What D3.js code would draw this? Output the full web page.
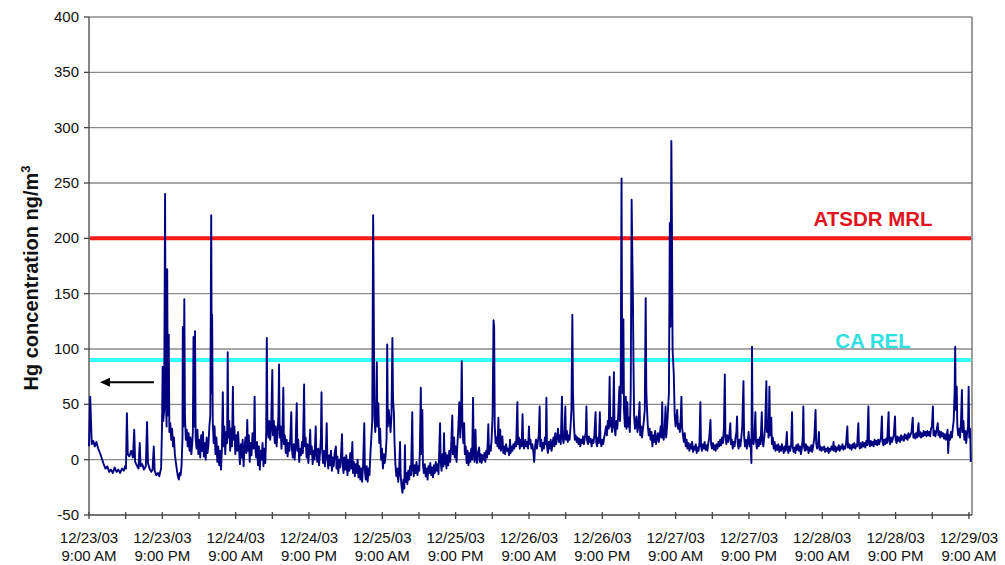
<!DOCTYPE html>
<html lang="en">
<head>
<meta charset="UTF-8" />
<title>Hg concentration</title>
<script src="https://cdnjs.cloudflare.com/ajax/libs/d3/7.8.5/d3.min.js"></script>
<style>
  body { margin: 0; background: #fff; }
  svg text { font-family: Arial, "Liberation Sans", sans-serif; fill: #111; }
  .grid { stroke: #8a8a8a; stroke-width: 1.3; }
  .hg { fill: none; stroke: #000080; stroke-width: 1.9; stroke-linejoin: round; }
</style>
</head>
<body>
<script>
var width = 1005, height = 565;
var plotLeft = 89, plotRight = 972, plotTop = 17, plotBottom = 515;

// start of record, series hours are counted from here
var start = new Date(2003, 11, 23, 9, 0);
var endHours = 144.5;

var yTicks = [-50, 0, 50, 100, 150, 200, 250, 300, 350, 400];
var xLabelDates = ["12/23/03", "12/23/03", "12/24/03", "12/24/03", "12/25/03", "12/25/03", "12/26/03",
                   "12/26/03", "12/27/03", "12/27/03", "12/28/03", "12/28/03", "12/29/03"];
var xLabelTimes = ["9:00 AM", "9:00 PM", "9:00 AM", "9:00 PM", "9:00 AM", "9:00 PM", "9:00 AM",
                   "9:00 PM", "9:00 AM", "9:00 PM", "9:00 AM", "9:00 PM", "9:00 AM"];
var limitNames = ["ATSDR MRL", "CA REL"];
var limitValues = [200, 90];
var limitColors = ["#ff1a1a", "#33ffff"];
var limitTextColors = ["#e0141e", "#2fe0e0"];

// [hours since start, Hg ng/m3]
var hgSeries = [
[0,12],[0.2,57],[0.45,14],[0.7,17],[0.95,12],[1.2,16],[1.5,10],[1.8,6],[2.1,1],[2.4,-4],[2.7,-8],[3.0,-6],[3.3,-11],[3.6,-9],[3.9,-12],[4.2,-7],[4.5,-11],[4.8,-9],[5.1,-12],[5.4,-8],[5.7,-10],[5.9,-6],[6.05,-8],[6.2,42],[6.35,5],[6.6,3],[6.9,8],[7.2,2],[7.4,27],[7.55,-2],[7.8,-5],[8.1,-8],[8.3,15],[8.45,-6],[8.7,-4],[9.0,-9],[9.3,-6],[9.5,34],[9.65,-3],[9.9,-8],[10.2,-11],[10.4,-9],[10.6,12],[10.75,-10],[11.0,-14],[11.3,-12],[11.5,-15],[11.7,-10],
[11.8,-8],[11.95,30],[12.05,84],[12.15,35],[12.3,45],[12.45,240],[12.55,60],[12.7,30],[12.8,172],[12.9,40],[13.05,113],[13.15,25],[13.3,33],[13.45,18],[13.6,28],[13.75,12],[13.9,20],[14.05,5],[14.2,-2],[14.4,-10],[14.55,-15],[14.7,-18],[14.85,-12],[15.0,-14],[15.15,-5],[15.3,20],[15.35,120],[15.45,30],[15.6,145],[15.7,40],[15.85,18],[16.0,27],[16.15,12],[16.3,24],[16.45,8],[16.6,20],[16.75,5],[16.9,15],[17.0,25],[17.1,111],[17.2,30],[17.35,116],[17.45,20],[17.6,10],[17.75,27],[17.9,5],[18.05,18],[18.2,2],[18.35,22],[18.5,8],[18.65,25],[18.8,3],[18.95,15],[19.1,0],[19.25,20],[19.4,6],[19.55,14],[19.7,30],[19.85,40],[20.0,221],[20.1,60],[20.15,131],[20.25,35],[20.4,15],[20.55,30],[20.7,5],[20.85,20],[21.0,-2],[21.15,12],[21.3,-5],[21.45,8],[21.6,-9],[21.75,10],[21.9,61],[22.0,12],[22.15,30],[22.3,5],[22.45,25],[22.6,15],[22.7,97],[22.8,20],[22.95,35],[23.1,8],[23.25,28],[23.4,12],[23.55,66],[23.65,18],[23.8,30],[23.95,5],[24.1,22],[24.25,8],[24.4,25],
[24.55,10],[24.7,-4],[24.85,14],[25.0,2],[25.15,18],[25.3,-6],[25.45,10],[25.6,20],[25.75,6],[25.9,36],[26.0,8],[26.15,22],[26.3,-2],[26.45,15],[26.6,4],[26.75,24],[26.9,10],[27.0,18],[27.1,57],[27.2,12],[27.35,2],[27.5,16],[27.65,-5],[27.8,12],[27.95,-9],[28.1,8],[28.25,0],[28.4,15],[28.55,-6],[28.7,10],[28.85,-3],[29.0,25],[29.1,110],[29.2,30],[29.35,20],[29.5,35],[29.65,18],[29.8,28],[29.9,55],[30.0,81],[30.1,22],[30.25,35],[30.4,15],[30.55,30],[30.7,12],[30.85,25],[31.0,40],[31.1,86],[31.2,20],[31.35,30],[31.5,10],[31.65,24],[31.8,65],[31.9,14],[32.05,22],[32.2,6],[32.35,18],[32.5,3],[32.65,15],[32.8,8],[32.95,20],[33.1,43],[33.2,10],[33.35,2],[33.5,14],[33.65,0],[33.8,12],[34.0,51],[34.1,8],[34.25,18],[34.4,-2],[34.55,10],[34.7,4],[34.85,16],[35.0,6],[35.2,68],[35.3,12],[35.45,20],[35.6,2],[35.75,14],[35.9,-3],[36.05,10],[36.2,27],[36.3,5],[36.45,12],[36.6,-4],[36.75,8],[36.9,0],[37.1,30],[37.2,6],[37.35,-2],[37.5,10],[37.65,-5],[37.8,6],[37.95,20],[38.05,61],[38.15,10],[38.3,-3],[38.45,8],[38.6,-6],[38.75,5],[38.9,33],[39.0,2],[39.15,-8],[39.3,4],[39.45,-5],[39.6,8],[39.75,-10],[39.9,2],[40.05,-6],[40.2,6],[40.4,12],[40.5,-8],[40.65,3],[40.8,-12],[40.95,0],[41.1,-7],[41.25,5],[41.4,23],[41.5,-4],[41.65,-12],[41.8,2],[41.95,-9],[42.1,4],[42.3,-14],[42.45,0],[42.6,-10],[42.75,6],[42.9,-8],[43.1,16],[43.2,-12],[43.35,-2],[43.5,-15],[43.65,-4],[43.8,-12],[43.95,0],[44.1,-16],[44.25,-6],[44.4,-18],[44.55,-8],[44.7,-20],[44.85,-5],[45.05,33],[45.15,-10],[45.3,-18],[45.45,-6],[45.6,-20],[45.75,-8],[45.9,-14],[46.05,5],[46.2,20],[46.35,35],[46.5,221],[46.6,137],[46.7,40],[46.85,25],[47.0,45],[47.1,88],[47.2,30],[47.35,51],[47.5,15],[47.65,28],[47.8,0],[47.95,10],[48.1,-8],[48.25,5],
[48.4,-3],[48.55,4],[48.7,20],[48.8,104],[48.9,30],[49.05,45],[49.2,36],[49.35,25],[49.5,40],[49.65,110],[49.75,55],[49.9,42],[50.0,15],[50.15,-5],[50.3,-15],[50.45,-8],[50.6,-20],[50.75,-10],[50.9,16],[51.0,-14],[51.15,-24],[51.3,-30],[51.45,-18],[51.6,-26],[51.7,13],[51.8,-20],[51.95,-12],[52.1,-22],[52.25,-10],[52.4,-18],[52.55,-6],[52.7,-14],[52.9,43],[53.0,-8],[53.15,-15],[53.3,-5],[53.45,-12],[53.6,-2],[53.75,-14],[53.9,-6],[54.05,-10],[54.15,10],[54.3,65],[54.4,5],[54.55,45],[54.65,-5],[54.8,-12],[54.95,-4],[55.1,-15],[55.25,-8],[55.4,-18],[55.55,-6],[55.7,-12],[55.85,-3],[56.0,-14],[56.15,-7],[56.3,-16],[56.45,-5],[56.6,-12],[56.75,-2],[56.9,-10],[57.05,-4],[57.2,-13],[57.3,5],[57.45,33],[57.55,-2],[57.7,-10],[57.85,5],[58.0,-6],[58.1,24],[58.2,-4],[58.35,6],[58.5,-8],[58.65,4],[58.8,-5],[58.95,8],[59.1,-2],[59.25,10],[59.45,40],[59.55,5],[59.75,20],[59.85,2],[60.0,12],[60.15,-2],[60.3,15],[60.45,30],[60.6,52],[60.75,20],[60.9,45],[61.0,89],[61.1,35],[61.25,15],[61.4,33],[61.5,5],[61.65,12],[61.8,-3],[61.95,8],[62.1,-5],[62.25,6],[62.4,-2],[62.55,10],[62.7,0],[62.85,56],[62.95,8],[63.1,-2],[63.25,27],[63.35,4],[63.5,-3],[63.65,6],[63.85,11],[63.95,-2],[64.1,5],[64.25,-3],[64.4,4],[64.55,0],[64.7,6],[64.85,-2],[65.0,8],[65.15,2],[65.35,32],[65.45,5],[65.6,12],[65.75,8],[65.9,20],[66.05,40],[66.2,126],[66.3,120],[66.4,30],[66.55,15],[66.7,20],[66.85,12],[67.0,38],[67.1,10],[67.3,27],[67.4,8],[67.55,15],[67.65,21],[67.8,6],[67.95,12],[68.1,5],[68.25,14],[68.4,8],[68.55,10],[68.75,4],[68.9,18],[69.0,6],[69.15,12],[69.3,8],[69.45,14],[69.6,10],[69.75,16],[69.9,12],[70.1,52],[70.2,14],[70.35,20],[70.5,10],[70.65,18],[70.8,12],[70.95,41],[71.05,15],[71.2,10],[71.4,18],[71.55,12],[71.7,16],[71.85,10],[72.0,30],[72.1,14],[72.25,18],[72.4,10],[72.55,14],
[72.7,8],[72.85,-2],[73.0,12],[73.15,18],[73.3,10],[73.45,16],[73.6,22],[73.75,48],[73.85,12],[74.0,18],[74.15,8],[74.3,15],[74.45,10],[74.6,20],[74.75,14],[74.85,56],[74.95,12],[75.1,6],[75.25,16],[75.4,10],[75.55,18],[75.7,8],[75.85,14],[76.0,20],[76.15,12],[76.3,24],[76.45,14],[76.6,20],[76.75,28],[76.9,16],[77.05,22],[77.2,14],[77.4,57],[77.5,20],[77.65,15],[77.8,22],[77.95,48],[78.05,18],[78.2,26],[78.35,16],[78.5,22],[78.65,18],[78.8,30],[78.95,45],[79.1,131],[79.2,60],[79.35,33],[79.5,18],[79.65,22],[79.8,16],[79.95,20],[80.1,14],[80.25,19],[80.4,12],[80.55,18],[80.7,15],[80.85,21],[81.0,14],[81.15,20],[81.3,25],[81.4,48],[81.5,18],[81.65,14],[81.8,21],[81.95,16],[82.1,19],[82.25,12],[82.4,18],[82.55,15],[82.7,22],[82.9,43],[83.0,16],[83.15,12],[83.3,20],[83.45,15],[83.6,43],[83.7,17],[83.85,12],[84.0,18],[84.15,14],[84.3,20],[84.45,24],[84.6,30],[84.75,22],[84.9,35],[85.05,28],[85.2,75],[85.3,30],[85.45,38],[85.6,25],[85.75,32],[85.9,79],[86.0,30],[86.15,22],[86.3,35],[86.45,28],[86.6,40],[86.8,66],[86.9,35],[87.0,50],[87.15,254],[87.25,90],[87.35,60],[87.45,127],[87.55,45],[87.7,30],[87.85,57],[87.95,28],[88.1,52],[88.2,30],[88.35,38],[88.5,25],[88.65,60],[88.8,235],[88.9,190],[89.0,150],[89.1,88],[89.2,40],[89.35,28],[89.5,35],[89.6,39],[89.75,25],[89.9,30],[90.1,52],[90.2,22],[90.35,30],[90.5,20],[90.65,28],[90.8,35],[90.95,45],[91.1,146],[91.2,63],[91.3,48],[91.45,30],[91.6,22],[91.75,28],[91.9,18],[92.05,25],[92.2,12],[92.35,22],[92.5,16],[92.65,26],[92.8,14],[92.95,20],[93.1,24],[93.25,16],[93.4,22],[93.55,30],[93.7,20],[93.8,52],[93.9,24],[94.05,18],[94.2,28],[94.35,48],[94.45,20],[94.6,30],[94.75,45],[94.9,60],[95.05,214],[95.15,120],[95.3,288],[95.4,210],[95.5,100],[95.7,77],[95.85,40],[96.0,30],[96.1,35],[96.25,45],[96.4,28],[96.55,32],[96.7,25],
[96.85,40],[96.95,57],[97.05,30],[97.2,22],[97.35,16],[97.5,24],[97.65,12],[97.8,18],[97.95,10],[98.1,15],[98.25,8],[98.4,14],[98.55,10],[98.7,16],[98.85,7],[99.0,12],[99.15,9],[99.3,14],[99.45,6],[99.6,11],[99.75,8],[99.9,15],[100.05,52],[100.15,12],[100.3,8],[100.45,14],[100.6,10],[100.75,16],[100.9,9],[101.05,13],[101.2,8],[101.35,15],[101.5,20],[101.7,36],[101.8,14],[101.95,10],[102.1,15],[102.25,9],[102.4,13],[102.55,8],[102.7,14],[102.85,10],[103.0,16],[103.15,12],[103.3,18],[103.45,13],[103.6,20],[103.75,15],[103.9,28],[104.05,77],[104.15,20],[104.3,14],[104.45,22],[104.6,16],[104.75,20],[104.95,33],[105.05,14],[105.2,18],[105.35,10],[105.5,16],[105.65,12],[105.8,20],[105.95,25],[106.05,39],[106.15,15],[106.3,10],[106.45,18],[106.6,12],[106.75,20],[106.9,30],[107.1,71],[107.2,22],[107.35,12],[107.5,18],[107.65,10],[107.8,16],[107.95,25],[108.1,12],[108.25,18],[108.4,-3],[108.5,102],[108.6,20],[108.75,14],[108.9,22],[109.05,43],[109.15,16],[109.3,10],[109.45,18],[109.6,12],[109.75,20],[109.9,14],[110.1,43],[110.2,18],[110.35,12],[110.5,20],[110.65,30],[110.85,71],[110.95,25],[111.1,35],[111.2,20],[111.35,66],[111.45,22],[111.65,38],[111.75,14],[111.9,20],[112.05,10],[112.2,16],[112.35,8],[112.5,13],[112.65,9],[112.8,14],[112.95,7],[113.1,12],[113.25,8],[113.4,14],[113.55,10],[113.7,6],[113.85,12],[114.0,8],[114.2,25],[114.3,10],[114.45,6],[114.6,12],[114.75,8],[114.9,14],[115.05,43],[115.15,12],[115.3,7],[115.45,11],[115.6,6],[115.75,13],[115.9,9],[116.05,14],[116.2,8],[116.35,12],[116.5,5],[116.65,10],[116.8,20],[116.9,48],[117.0,12],[117.15,8],[117.3,14],[117.45,9],[117.6,12],[117.75,6],[117.9,11],[118.05,8],[118.2,13],[118.35,7],[118.5,12],[118.7,20],[118.9,45],[119.0,15],[119.15,10],[119.3,13],[119.45,25],[119.55,9],[119.7,12],[119.85,8],[120.0,11],
[120.15,9],[120.3,12],[120.45,7],[120.6,10],[120.75,8],[120.9,11],[121.05,6],[121.2,10],[121.35,8],[121.5,12],[121.7,9],[121.85,16],[121.95,8],[122.1,12],[122.25,7],[122.4,11],[122.55,9],[122.7,13],[122.85,8],[123.0,12],[123.15,10],[123.3,14],[123.45,9],[123.6,12],[123.75,10],[123.9,15],[124.1,30],[124.2,11],[124.35,14],[124.5,10],[124.65,13],[124.8,9],[124.95,14],[125.1,11],[125.25,15],[125.4,10],[125.55,13],[125.7,12],[125.9,33],[126.0,14],[126.15,10],[126.3,15],[126.45,11],[126.6,16],[126.75,12],[126.9,15],[127.05,11],[127.2,17],[127.35,13],[127.55,48],[127.65,15],[127.8,12],[127.95,17],[128.1,13],[128.25,16],[128.4,12],[128.55,18],[128.7,14],[128.85,17],[129.0,13],[129.15,18],[129.3,14],[129.45,17],[129.6,20],[129.75,39],[129.85,16],[130.0,13],[130.15,18],[130.3,14],[130.45,19],[130.6,15],[130.85,43],[130.95,17],[131.1,14],[131.25,20],[131.4,16],[131.55,19],[131.7,22],[131.9,39],[132.0,18],[132.15,15],[132.3,21],[132.45,17],[132.6,20],[132.75,16],[132.9,22],[133.05,18],[133.2,21],[133.35,17],[133.5,23],[133.65,19],[133.8,22],[133.95,18],[134.1,24],[134.25,20],[134.4,22],[134.6,25],[134.8,38],[134.9,20],[135.05,23],[135.2,19],[135.35,24],[135.5,20],[135.75,33],[135.85,21],[136.0,25],[136.15,20],[136.3,24],[136.45,21],[136.6,26],[136.75,22],[136.9,25],[137.05,21],[137.2,26],[137.35,22],[137.5,25],[137.65,21],[137.8,28],[137.95,30],[138.1,48],[138.2,22],[138.35,26],[138.5,21],[138.65,25],[138.9,33],[139.0,22],[139.15,26],[139.3,20],[139.45,25],[139.6,21],[139.75,24],[139.9,19],[140.05,23],[140.2,18],[140.35,22],[140.5,27],[140.6,6],[140.75,22],[140.9,18],[141.05,25],[141.2,20],[141.35,28],[141.5,35],[141.65,60],[141.75,102],[141.85,45],[142.0,66],[142.1,30],[142.25,22],[142.4,28],[142.55,20],[142.7,35],[142.85,63],[142.95,25],[143.1,35],[143.25,18],[143.4,26],[143.55,15],[143.7,24],[143.85,30],[143.95,66],[144.05,20],[144.2,28],[144.3,-2]
];

function atHour(h) { return new Date(start.getTime() + h * 3600e3); }

var svg = d3.select("body").append("svg").attr("width", width).attr("height", height);

var x = d3.scaleTime().domain([start, atHour(endHours)]).range([plotLeft, plotRight]);
var y = d3.scaleLinear().domain([-50, 400]).range([plotBottom, plotTop]);

// horizontal gridlines
svg.selectAll(".grid").data(yTicks.filter(function(d) { return d > -50; }))
  .enter().append("line").attr("class", "grid")
  .attr("x1", plotLeft).attr("x2", plotRight)
  .attr("y1", function(d) { return y(d); }).attr("y2", function(d) { return y(d); });

// y axis + right border
svg.append("line").attr("x1", plotLeft).attr("x2", plotLeft).attr("y1", plotTop).attr("y2", plotBottom)
  .attr("stroke", "#444").attr("stroke-width", 1.3);
svg.append("line").attr("x1", plotRight).attr("x2", plotRight).attr("y1", plotTop).attr("y2", plotBottom)
  .attr("stroke", "#666").attr("stroke-width", 1.3);
svg.selectAll(".ytick").data(yTicks).enter().append("line")
  .attr("x1", plotLeft - 5).attr("x2", plotLeft)
  .attr("y1", function(d) { return y(d); }).attr("y2", function(d) { return y(d); })
  .attr("stroke", "#444").attr("stroke-width", 1.3);
svg.selectAll(".ylab").data(yTicks).enter().append("text")
  .attr("x", plotLeft - 10).attr("y", function(d) { return y(d) + 5; })
  .attr("text-anchor", "end").attr("font-size", "15px")
  .text(function(d) { return d; });

// x axis
svg.append("line").attr("x1", plotLeft).attr("x2", plotRight).attr("y1", plotBottom).attr("y2", plotBottom)
  .attr("stroke", "#444").attr("stroke-width", 1.3);
var tickHours = d3.range(0, 145, 6);
svg.selectAll(".xtick").data(tickHours).enter().append("line")
  .attr("x1", function(d) { return x(atHour(d)); }).attr("x2", function(d) { return x(atHour(d)); })
  .attr("y1", plotBottom - 3).attr("y2", plotBottom + 4)
  .attr("stroke", "#444").attr("stroke-width", 1.3);
var xl = svg.selectAll(".xlab").data(xLabelDates).enter().append("text")
  .attr("text-anchor", "middle").attr("font-size", "15px");
xl.append("tspan").attr("x", function(d, i) { return x(atHour(i * 12)); }).attr("y", 543)
  .text(function(d) { return d; });
xl.append("tspan").attr("x", function(d, i) { return x(atHour(i * 12)); }).attr("y", 561)
  .text(function(d, i) { return xLabelTimes[i]; });

// limit lines
svg.selectAll(".limit").data(limitValues).enter().append("line")
  .attr("x1", plotLeft + 1).attr("x2", plotRight - 1)
  .attr("y1", function(d) { return y(d); }).attr("y2", function(d) { return y(d); })
  .attr("stroke", function(d, i) { return limitColors[i]; }).attr("stroke-width", 4);

// series
var line = d3.line()
  .x(function(d) { return x(atHour(d[0])); })
  .y(function(d) { return y(d[1]); });
svg.append("path").datum(hgSeries).attr("class", "hg").attr("d", line);

// limit labels
svg.selectAll(".limlab").data(limitNames).enter().append("text")
  .attr("x", 873).attr("y", function(d, i) { return y(limitValues[i]) - 12; })
  .attr("text-anchor", "middle").attr("font-size", "20.5px").attr("font-weight", "bold")
  .style("fill", function(d, i) { return limitTextColors[i]; })
  .text(function(d) { return d; });

// arrow
var ay = y(70);
svg.append("line").attr("x1", 154).attr("x2", 108).attr("y1", ay).attr("y2", ay)
  .attr("stroke", "#000").attr("stroke-width", 2);
svg.append("path").attr("d", "M100," + ay + " L110," + (ay - 4.5) + " L110," + (ay + 4.5) + " Z").attr("fill", "#000");

// y title
var yt = svg.append("text").attr("transform", "translate(38,278) rotate(-90)")
  .attr("text-anchor", "middle").attr("font-size", "20px").attr("font-weight", "bold");
yt.append("tspan").text("Hg concentration ng/m");
yt.append("tspan").attr("dy", -8).attr("font-size", "13px").text("3");
</script>
</body>
</html>
